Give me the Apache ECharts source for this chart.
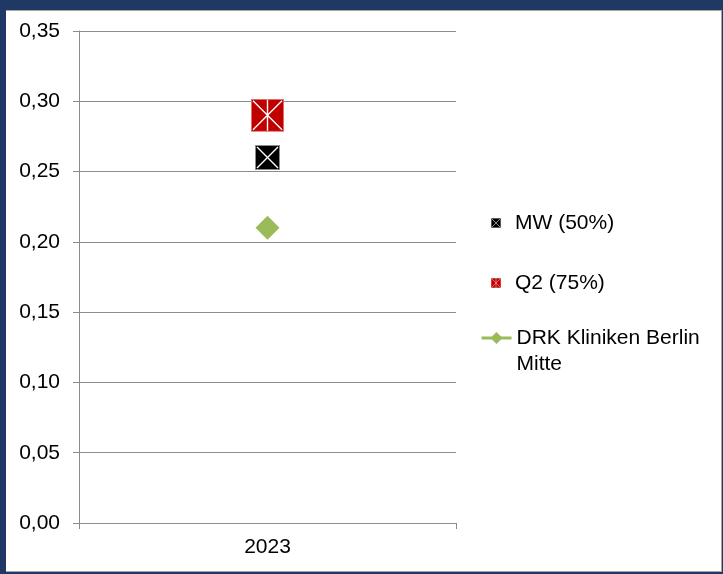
<!DOCTYPE html>
<html>
<head>
<meta charset="utf-8">
<script src="https://cdn.jsdelivr.net/npm/echarts@6/dist/echarts.min.js"></script>
<style>
html,body{margin:0;padding:0;width:723px;height:574px;background:#1f3864;overflow:hidden;}
#panel{position:absolute;left:6px;top:10px;width:715px;height:560px;background:#fff;border-top:1px solid #a6a6a6;border-right:1px solid #a6a6a6;border-bottom:1px solid #a6a6a6;}
#chart{position:absolute;left:0;top:0;width:723px;height:574px;}
</style>
</head>
<body>
<div id="panel"></div>
<div id="chart"></div>
<script>
var categories = ['2023'];
var mwValues = [0.26];
var q2Values = [0.29];
var drkValues = [0.21];
var seriesNames = ['MW (50%)', 'Q2 (75%)', 'DRK Kliniken Berlin Mitte'];
var yTicks = { min: 0, max: 0.35, interval: 0.05 };

function svgUri(s) { return 'image://data:image/svg+xml;charset=utf-8,' + encodeURIComponent(s); }
var blackSym = svgUri("<svg xmlns='http://www.w3.org/2000/svg' width='25' height='25' viewBox='0 0 25 25'><rect x='0.5' y='0.5' width='24' height='24' fill='#000' stroke='#8c8c8c' stroke-width='1'/><path d='M2 2L23 23M23 2L2 23' stroke='#fff' stroke-width='1.4'/></svg>");
var redSym = svgUri("<svg xmlns='http://www.w3.org/2000/svg' width='33' height='33' viewBox='0 0 33 33'><rect x='0.5' y='0.5' width='32' height='32' fill='#c00000' stroke='#e07070' stroke-width='1'/><path d='M2 2L31 31M31 2L2 31M16.5 1V32' stroke='#fff' stroke-width='1.4'/></svg>");

var chart = echarts.init(document.getElementById('chart'), null, { renderer: 'canvas' });
var font = 'Liberation Sans, Arial, sans-serif';
var fs = 21;
chart.setOption({
  backgroundColor: 'transparent',
  animation: false,
  textStyle: { fontFamily: font },
  grid: { left: 79, right: 267, top: 31, bottom: 51, containLabel: false },
  xAxis: {
    type: 'category',
    data: categories,
    boundaryGap: true,
    axisLine: { lineStyle: { color: '#8c8c8c', width: 1 } },
    axisTick: { show: true, length: 6, lineStyle: { color: '#8c8c8c' } },
    axisLabel: { color: '#000', fontSize: fs, fontFamily: font, margin: 14 },
    splitLine: { show: false }
  },
  yAxis: {
    type: 'value',
    min: yTicks.min, max: yTicks.max, interval: yTicks.interval,
    axisLine: { show: true, lineStyle: { color: '#8c8c8c', width: 1 } },
    axisTick: { show: true, length: 6, lineStyle: { color: '#8c8c8c' } },
    axisLabel: { color: '#000', fontSize: fs, fontFamily: font, margin: 19,
      formatter: function (v) { return v.toFixed(2).replace('.', ','); } },
    splitLine: { show: true, lineStyle: { color: '#8c8c8c', width: 1 } }
  },
  legend: [
    {
      data: [seriesNames[0], seriesNames[1]],
      orient: 'vertical', left: 491, top: 211, padding: 0,
      itemWidth: 10, itemHeight: 10, itemGap: 36,
      textStyle: { color: '#000', fontSize: fs, fontFamily: font, lineHeight: 24, padding: [0, 0, 0, 9] },
      selectedMode: false
    },
    {
      data: [seriesNames[2]],
      orient: 'vertical', left: 480, top: 299, padding: 0,
      itemWidth: 30, itemHeight: 15,
      lineStyle: { width: 3 },
      textStyle: { color: '#000', fontSize: fs, fontFamily: font, lineHeight: 26 },
      formatter: function () { return ' \nDRK Kliniken Berlin\nMitte'; },
      selectedMode: false
    }
  ],
  series: [
    {
      name: seriesNames[0], type: 'scatter', data: mwValues,
      symbol: blackSym, symbolSize: 25, itemStyle: { opacity: 1 }, z: 3
    },
    {
      name: seriesNames[1], type: 'scatter', data: q2Values,
      symbol: redSym, symbolSize: 33, itemStyle: { opacity: 1 }, z: 4
    },
    {
      name: seriesNames[2], type: 'line', data: drkValues,
      symbol: 'diamond', symbolSize: 24,
      itemStyle: { color: '#9bbb59' },
      lineStyle: { color: '#9bbb59', width: 3 },
      z: 2
    }
  ]
});
</script>
</body>
</html>
